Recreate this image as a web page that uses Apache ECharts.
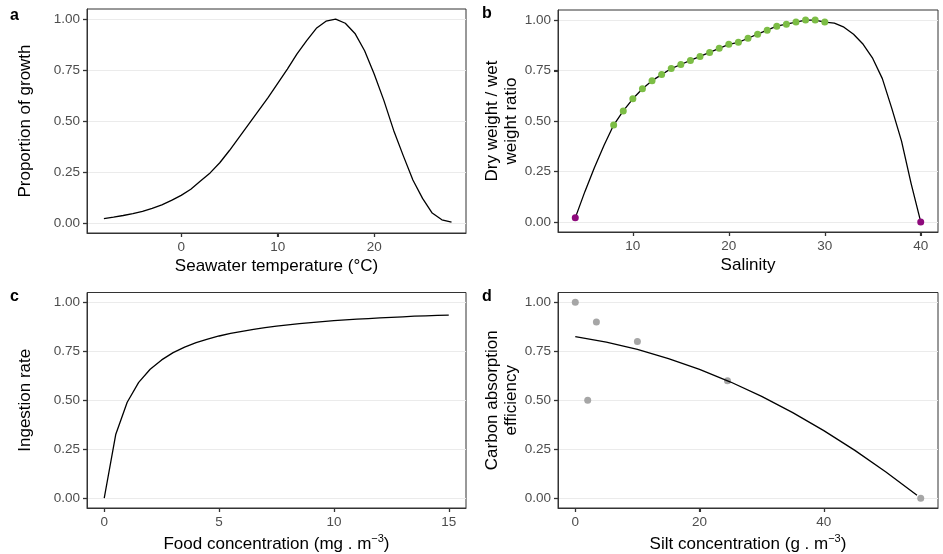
<!DOCTYPE html>
<html>
<head>
<meta charset="utf-8">
<script src="https://cdn.jsdelivr.net/npm/echarts@6/dist/echarts.min.js"></script>
<style>html,body{margin:0;padding:0;background:#fff}#c{width:943px;height:554px}</style>
</head>
<body>
<div id="c"></div>
<script>
// ---- Panel a: growth vs seawater temperature
const tempX = [-8,-7,-6,-5,-4,-3,-2,-1,0,1,2,3,4,5,6,7,8,9,10,11,12,13,14,15,16,17,18,19,20,21,22,23,24,25,26,27,28];
const growth = [0.021,0.028,0.036,0.045,0.056,0.071,0.088,0.11,0.135,0.165,0.205,0.245,0.295,0.355,0.42,0.485,0.55,0.615,0.685,0.755,0.83,0.895,0.955,0.99,1.0,0.98,0.93,0.845,0.73,0.6,0.455,0.33,0.21,0.12,0.048,0.015,0.003];
// ---- Panel b: dry/wet weight ratio vs salinity
const salCurveX = [4,5,6,7,8,9,10,11,12,13,14,15,16,17,18,19,20,21,22,23,24,25,26,27,28,29,30,31,32,33,34,35,36,37,38,39,40];
const salCurveY = [0.02,0.15,0.27,0.38,0.48,0.55,0.61,0.66,0.70,0.73,0.76,0.78,0.80,0.82,0.84,0.86,0.88,0.89,0.91,0.93,0.95,0.97,0.98,0.99,1.0,1.0,0.99,0.985,0.965,0.93,0.88,0.81,0.71,0.56,0.40,0.19,0.0];
const salGreenX = [8,9,10,11,12,13,14,15,16,17,18,19,20,21,22,23,24,25,26,27,28,29,30];
const salGreenY = [0.48,0.55,0.61,0.66,0.70,0.73,0.76,0.78,0.80,0.82,0.84,0.86,0.88,0.89,0.91,0.93,0.95,0.97,0.98,0.99,1.0,1.0,0.99];
const salPurpleX = [4,40];
const salPurpleY = [0.02,0.0];
// ---- Panel c: ingestion rate vs food concentration
const foodX = [0,0.5,1,1.5,2,2.5,3,3.5,4,4.5,5,5.5,6,6.5,7,7.5,8,8.5,9,9.5,10,10.5,11,11.5,12,12.5,13,13.5,14,14.5,15];
const ingestion = [0,0.325,0.49,0.591,0.658,0.706,0.743,0.771,0.794,0.812,0.828,0.841,0.852,0.862,0.871,0.878,0.885,0.891,0.896,0.901,0.906,0.910,0.914,0.917,0.920,0.923,0.926,0.929,0.931,0.933,0.935];
// ---- Panel d: carbon absorption efficiency vs silt concentration
const siltPtsX = [0,2,3.4,10,24.5,55.6];
const siltPtsY = [1.0,0.5,0.9,0.8,0.6,0.0];
const siltCurveX = [0,5,10,15,20,25,30,35,40,45,50,55];
const siltCurveY = [0.825,0.797,0.760,0.713,0.658,0.593,0.520,0.437,0.345,0.244,0.134,0.015];
// ---- ticks and labels
const yTicks = [0,0.25,0.5,0.75,1];
const xTicksA = [0,10,20];
const xTicksB = [10,20,30,40];
const xTicksC = [0,5,10,15];
const xTicksD = [0,20,40];
const panelTags = ['a','b','c','d'];
const xTitles = ['Seawater temperature (°C)','Salinity','Food concentration (mg . m{sup|−3})','Silt concentration (g . m{sup|−3})'];
const yTitles = ['Proportion of growth','Dry weight / wet\nweight ratio','Ingestion rate','Carbon absorption\nefficiency'];

const zip = (xs, ys) => xs.map((x, i) => [x, ys[i]]);
const FONT = '"Liberation Sans", Arial, Helvetica, sans-serif';
const Y_MIN = -0.05, Y_MAX = 1.05;

const grids = [
  {left: 87, top: 9, width: 379, height: 224},
  {left: 558, top: 10, width: 380, height: 222},
  {left: 87, top: 292.5, width: 379, height: 215.5},
  {left: 558, top: 292.5, width: 380, height: 215.5}
].map(g => Object.assign({show: true, borderColor: '#333333', borderWidth: 1, backgroundColor: 'transparent', containLabel: false, outerBoundsMode: 'none'}, g));

const xRanges = [[-9.75, 29.5],[2.2, 41.8],[-0.75, 15.75],[-2.78, 58.38]];
const xTickSets = [xTicksA, xTicksB, xTicksC, xTicksD];
const xGaps = [22, 22, 25, 25];
const yGaps = [52, 36, 52, 36];

const xAxes = xRanges.map((r, i) => ({
  type: 'value', gridIndex: i, min: r[0], max: r[1], position: 'bottom',
  axisLine: {show: true, onZero: false, lineStyle: {color: '#333333', width: 1}},
  axisTick: {show: true, inside: false, length: 4, lineStyle: {color: '#333333', width: 1.2}, customValues: xTickSets[i]},
  axisLabel: {color: '#4D4D4D', fontSize: 13.5, fontFamily: FONT, margin: 7, customValues: xTickSets[i]},
  splitLine: {show: false},
  name: xTitles[i], nameLocation: 'middle', nameGap: xGaps[i],
  nameTextStyle: {color: '#000', fontSize: 17, fontFamily: FONT, lineHeight: 22,
    rich: {sup: {fontSize: 11, lineHeight: 11, verticalAlign: 'top', fontFamily: FONT, color: '#000'}}}
}));

const yAxes = [0,1,2,3].map(i => ({
  type: 'value', gridIndex: i, min: Y_MIN, max: Y_MAX, position: 'left',
  axisLine: {show: true, onZero: false, lineStyle: {color: '#333333', width: 1}},
  axisTick: {show: true, inside: false, length: 4, lineStyle: {color: '#333333', width: 1.2}, customValues: yTicks},
  axisLabel: {color: '#4D4D4D', fontSize: 13.5, fontFamily: FONT, margin: 7, customValues: yTicks,
    formatter: v => v.toFixed(2)},
  splitLine: {show: true, lineStyle: {color: '#EBEBEB', width: 1}},
  name: yTitles[i], nameLocation: 'middle', nameGap: yGaps[i],
  nameTextStyle: {color: '#000', fontSize: 17, fontFamily: FONT, lineHeight: 19}
}));

// tick marks drawn through the axes' own scales
function xTickSeries(i) {
  return {
    type: 'custom', xAxisIndex: i, yAxisIndex: i, silent: true, clip: false, z: 5,
    data: xTickSets[i].map(v => [v, Y_MIN]),
    renderItem: (params, api) => {
      const p = api.coord([api.value(0), api.value(1)]);
      const x = Math.round(p[0]) + 0.5;
      return {type: 'line', shape: {x1: x, y1: p[1], x2: x, y2: p[1] + 4}, style: {stroke: '#333333', lineWidth: 1.1}};
    }
  };
}
function yTickSeries(i) {
  return {
    type: 'custom', xAxisIndex: i, yAxisIndex: i, silent: true, clip: false, z: 5,
    data: yTicks.map(v => [xRanges[i][0], v]),
    renderItem: (params, api) => {
      const p = api.coord([api.value(0), api.value(1)]);
      const y = Math.round(p[1]) + 0.5;
      return {type: 'line', shape: {x1: p[0] - 4, y1: y, x2: p[0], y2: y}, style: {stroke: '#333333', lineWidth: 1.1}};
    }
  };
}

const lineStyle = {color: '#000', width: 1.3};
const series = [
  {type: 'line', xAxisIndex: 0, yAxisIndex: 0, data: zip(tempX, growth), showSymbol: false, smooth: false, lineStyle, silent: true},
  {type: 'line', xAxisIndex: 1, yAxisIndex: 1, data: zip(salCurveX, salCurveY), showSymbol: false, smooth: false, lineStyle, silent: true, z: 2},
  {type: 'scatter', xAxisIndex: 1, yAxisIndex: 1, data: zip(salGreenX, salGreenY), symbolSize: 7, itemStyle: {color: '#7CBD45', opacity: 1}, z: 3},
  {type: 'scatter', xAxisIndex: 1, yAxisIndex: 1, data: zip(salPurpleX, salPurpleY), symbolSize: 7, itemStyle: {color: '#8E0A7C', opacity: 1}, z: 3},
  {type: 'line', xAxisIndex: 2, yAxisIndex: 2, data: zip(foodX, ingestion), showSymbol: false, smooth: false, lineStyle, silent: true},
  {type: 'scatter', xAxisIndex: 3, yAxisIndex: 3, data: zip(siltPtsX, siltPtsY), symbolSize: 7, itemStyle: {color: '#A6A6A6', opacity: 1}, z: 1},
  {type: 'line', xAxisIndex: 3, yAxisIndex: 3, data: zip(siltCurveX, siltCurveY), showSymbol: false, smooth: false, lineStyle, silent: true, z: 2}
].concat([0,1,2,3].map(xTickSeries), [0,1,2,3].map(yTickSeries));

const tagPos = [[15, 17], [487, 15], [15, 298], [487, 298]];
const graphic = panelTags.map((t, i) => ({
  type: 'text', left: tagPos[i][0] - 5, top: tagPos[i][1] - 9,
  style: {text: t, fontSize: 16, fontWeight: 'bold', fontFamily: FONT, fill: '#000'}
}));

const chart = echarts.init(document.getElementById('c'), null, {renderer: 'canvas'});
chart.setOption({
  animation: false,
  backgroundColor: '#fff',
  grid: grids, xAxis: xAxes, yAxis: yAxes, series, graphic
});
</script>
</body>
</html>
